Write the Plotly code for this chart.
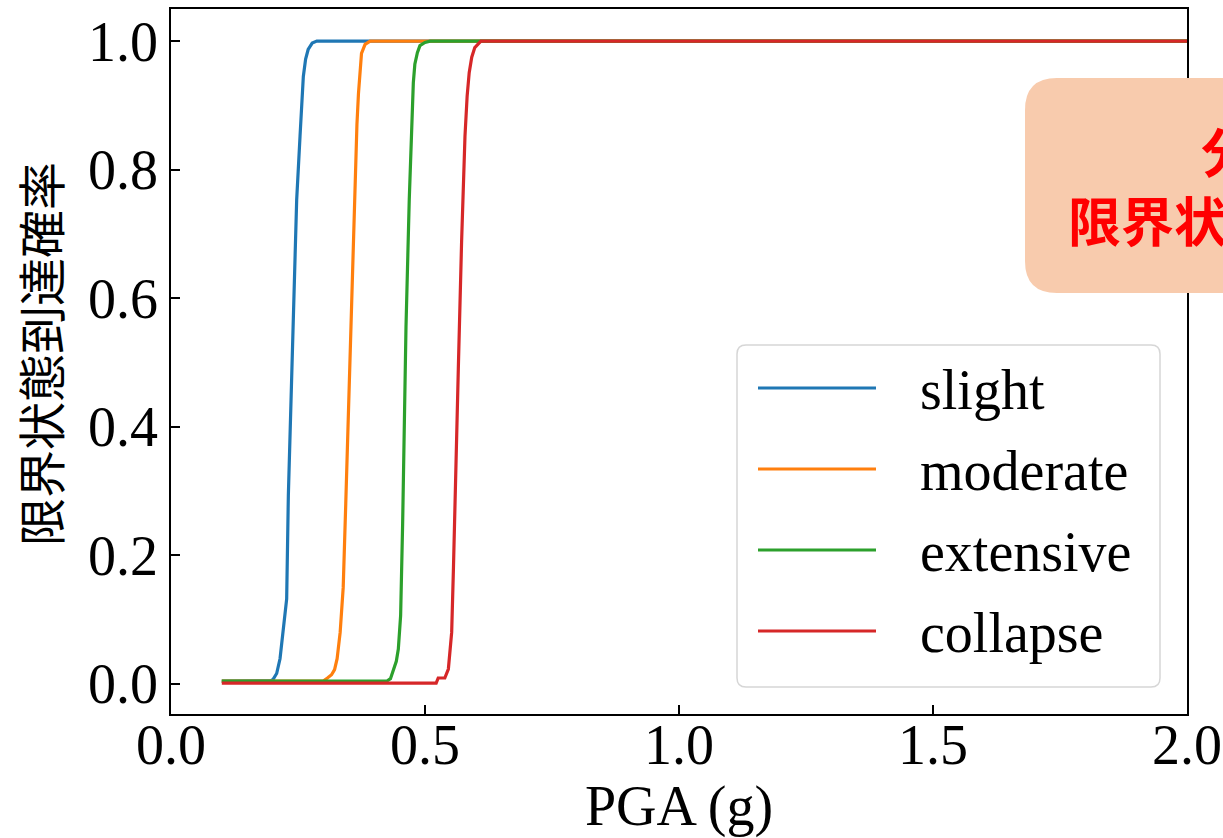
import plotly.graph_objects as go

# ---------------- data ----------------
series_names = ["slight", "moderate", "extensive", "collapse"]
series_colors = ["#1f77b4", "#ff7f0e", "#2ca02c", "#d62728"]

slight_x = [0.10, 0.191, 0.197, 0.201, 0.208, 0.2146, 0.221, 0.2277, 0.231, 0.236, 0.2408, 0.2474, 0.254,
            0.2575, 0.2605, 0.265, 0.270, 0.278, 0.287, 2.0]
slight_y = [0.004, 0.004, 0.005, 0.007, 0.016, 0.039, 0.09, 0.132, 0.293, 0.43, 0.556, 0.753, 0.852,
            0.91, 0.945, 0.972, 0.987, 0.997, 1.0, 1.0]

moderate_x = [0.10, 0.299, 0.308, 0.316, 0.322, 0.327, 0.333, 0.339, 0.344, 0.349, 0.356, 0.362,
              0.366, 0.369, 0.372, 0.375, 0.382, 0.392, 2.0]
moderate_y = [0.004, 0.004, 0.009, 0.014, 0.022, 0.039, 0.08, 0.15, 0.28, 0.424, 0.622, 0.787,
              0.87, 0.918, 0.958, 0.981, 0.995, 1.0, 1.0]

extensive_x = [0.10, 0.4245, 0.432, 0.4376, 0.4435, 0.4475, 0.452, 0.456, 0.4626, 0.469, 0.474,
               0.477, 0.480, 0.485, 0.490, 0.500, 0.510, 2.0]
extensive_y = [0.004, 0.004, 0.008, 0.02, 0.035, 0.054, 0.106, 0.25, 0.556, 0.753, 0.885,
               0.935, 0.964, 0.982, 0.993, 0.998, 1.0, 1.0]

collapse_x = [0.10, 0.522, 0.526, 0.539, 0.546, 0.5525, 0.556, 0.559, 0.5656, 0.572, 0.5787,
              0.583, 0.587, 0.592, 0.598, 0.610, 2.0]
collapse_y = [0.001, 0.001, 0.009, 0.009, 0.023, 0.08, 0.18, 0.293, 0.49, 0.687, 0.852,
              0.915, 0.951, 0.975, 0.99, 1.0, 1.0]

series_x = [slight_x, moderate_x, extensive_x, collapse_x]
series_y = [slight_y, moderate_y, extensive_y, collapse_y]

x_ticks = [0.0, 0.5, 1.0, 1.5, 2.0]
y_ticks = [0.0, 0.2, 0.4, 0.6, 0.8, 1.0]

x_title = "PGA (g)"
y_title = "限界状態到達確率"
note_lines = ["分析による", "限界状態到達確率曲線"]

# ---------------- layout geometry (pixels) ----------------
W, H = 1223, 838
L, R, T, B = 171, 1187, 9, 714
PW, PH = R - L, B - T


def px(xp):
    return (xp - L) / PW


def py(yp):
    return (B - yp) / PH


def rounded_path(x0, y0, x1, y1, r):
    d = f"M {px(x0 + r)},{py(y0)} L {px(x1 - r)},{py(y0)} "
    d += f"Q {px(x1)},{py(y0)} {px(x1)},{py(y0 + r)} "
    d += f"L {px(x1)},{py(y1 - r)} "
    d += f"Q {px(x1)},{py(y1)} {px(x1 - r)},{py(y1)} "
    d += f"L {px(x0 + r)},{py(y1)} "
    d += f"Q {px(x0)},{py(y1)} {px(x0)},{py(y1 - r)} "
    d += f"L {px(x0)},{py(y0 + r)} "
    d += f"Q {px(x0)},{py(y0)} {px(x0 + r)},{py(y0)} Z"
    return d


SERIF = "Liberation Serif, Times New Roman, serif"
CJK = "Noto Sans CJK JP, Noto Sans CJK SC, sans-serif"
FS = 56
NOTE_FS = 53

fig = go.Figure()
for name, color, xs, ys in zip(series_names, series_colors, series_x, series_y):
    fig.add_trace(go.Scatter(x=xs, y=ys, mode="lines", name=name,
                             line=dict(color=color, width=3.2), showlegend=False))

shapes = []
annotations = []

# legend (drawn manually to mimic matplotlib legend)
shapes.append(dict(type="path", xref="paper", yref="paper",
                   path=rounded_path(737, 345, 1160, 687, 9),
                   fillcolor="rgba(255,255,255,0.85)",
                   line=dict(color="#d6d6d6", width=1.5), layer="above"))
leg_rows = [388, 469, 550, 631]
for name, color, yrow in zip(series_names, series_colors, leg_rows):
    shapes.append(dict(type="line", xref="paper", yref="paper",
                       x0=px(758), x1=px(876), y0=py(yrow), y1=py(yrow),
                       line=dict(color=color, width=3.2), layer="above"))
    annotations.append(dict(xref="paper", yref="paper", x=px(918), y=py(yrow + 2),
                            xanchor="left", yanchor="middle", text=name, showarrow=False,
                            font=dict(family=SERIF, size=FS, color="black")))

# note box (partially outside the figure, as in the reference)
shapes.append(dict(type="path", xref="paper", yref="paper",
                   path=rounded_path(1025, 78, 1700, 293, 32),
                   fillcolor="#F8CBAD", line=dict(width=0), layer="above"))
line2_len = len(note_lines[1])
note_cx = 1068 + line2_len * NOTE_FS / 2
annotations.append(dict(xref="paper", yref="paper", x=px(note_cx), y=py(184),
                        xanchor="center", yanchor="middle", align="center",
                        text="<br>".join(f"<b>{s}</b>" for s in note_lines),
                        showarrow=False, font=dict(family=CJK, size=NOTE_FS, color="#FF0000")))

# y-axis title
annotations.append(dict(xref="paper", yref="paper", x=px(39), y=py(354),
                        xanchor="center", yanchor="middle", text=y_title, textangle=-90,
                        showarrow=False, font=dict(family=CJK, size=48, color="black")))

fig.update_layout(
    width=W, height=H,
    margin=dict(l=L, r=W - R, t=T, b=H - B, autoexpand=False),
    paper_bgcolor="white", plot_bgcolor="white",
    font=dict(family=SERIF, size=FS, color="black"),
    shapes=shapes, annotations=annotations,
    showlegend=False,
)
fig.update_xaxes(range=[0.0, 2.0], tickvals=x_ticks, ticktext=[f"{v:.1f}" for v in x_ticks],
                 ticks="inside", ticklen=9, tickwidth=1.5, tickcolor="black",
                 showline=True, linecolor="black", linewidth=1.5, mirror=True,
                 showgrid=False, zeroline=False, ticklabelstandoff=-19,
                 tickfont=dict(family=SERIF, size=FS),
                 title=dict(text=x_title, font=dict(family=SERIF, size=FS), standoff=23))
fig.update_yaxes(range=[-0.047, 1.05], tickvals=y_ticks, ticktext=[f"{v:.1f}" for v in y_ticks],
                 ticks="inside", ticklen=9, tickwidth=1.5, tickcolor="black",
                 showline=True, linecolor="black", linewidth=1.5, mirror=True,
                 showgrid=False, zeroline=False,
                 tickfont=dict(family=SERIF, size=FS))

fig.write_html("out.html", config={"displayModeBar": False},
               post_script="document.body.style.margin='0';")
